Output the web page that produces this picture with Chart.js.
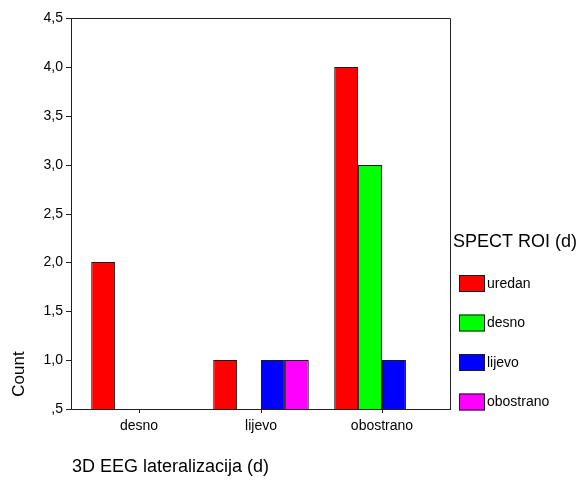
<!DOCTYPE html>
<html><head><meta charset="utf-8">
<script src="https://cdn.jsdelivr.net/npm/chart.js@4/dist/chart.umd.min.js"></script>
<style>html,body{margin:0;padding:0;background:#fff}#wrap{width:585px;height:481px;position:relative}</style>
</head><body><div id="wrap"><canvas id="c" width="585" height="481"></canvas></div>
<script>
// ---- data ----
const categories = ['desno', 'lijevo', 'obostrano'];
const seriesNames = ['uredan', 'desno', 'lijevo', 'obostrano'];
const uredan    = [2, 1, 4];
const desno     = [null, null, 3];
const lijevo    = [null, 1, 1];
const obostrano = [null, 1, null];
const yTickValues = [0.5, 1.0, 1.5, 2.0, 2.5, 3.0, 3.5, 4.0, 4.5];
const yTickLabels = [',5', '1,0', '1,5', '2,0', '2,5', '3,0', '3,5', '4,0', '4,5'];
const xTitle = '3D EEG lateralizacija (d)';
const yTitle = 'Count';
const legendTitle = 'SPECT ROI (d)';
// ---- styles ----
const seriesColors = ['#ff0000', '#00ff00', '#0000ff', '#ff00ff'];
const FONT = "'Liberation Sans', Arial, sans-serif";
const INK = '#222222';
const EDGE = '#1a1a1a';

const seriesValues = [uredan, desno, lijevo, obostrano];
const toPoints = arr => arr.map((v, i) => (v === null ? null : {x: i, y: v})).filter(p => p);

const datasets = seriesNames.map((name, k) => ({
  label: name,
  data: toPoints(seriesValues[k]),
  backgroundColor: seriesColors[k],
  borderColor: EDGE,
  borderWidth: 1,
  borderSkipped: 'bottom',
  categoryPercentage: 0.79,
  barPercentage: 1.0
}));

const decorPlugin = {
  id: 'decor',
  afterDraw(chart) {
    const ctx = chart.ctx;
    const a = chart.chartArea;
    ctx.save();
    // frame
    ctx.strokeStyle = INK;
    ctx.lineWidth = 1;
    ctx.beginPath();
    ctx.moveTo(a.left, a.top + 0.5);
    ctx.lineTo(a.right + 0.5, a.top + 0.5);
    ctx.lineTo(a.right + 0.5, a.bottom);
    ctx.stroke();
    // y title
    ctx.fillStyle = '#000';
    ctx.font = '17px ' + FONT;
    ctx.textAlign = 'center';
    ctx.textBaseline = 'middle';
    ctx.save();
    ctx.translate(19, 374);
    ctx.rotate(-Math.PI / 2);
    ctx.fillText(yTitle, 0, 0);
    ctx.restore();
    // x title
    ctx.font = '18px ' + FONT;
    ctx.textAlign = 'left';
    ctx.fillText(xTitle, a.left + 1, 467);
    // legend
    ctx.fillText(legendTitle, 453, 242);
    ctx.font = '14px ' + FONT;
    chart.data.datasets.forEach((ds, i) => {
      const top = 275 + i * 39.5;
      ctx.fillStyle = ds.backgroundColor;
      ctx.fillRect(459, top, 26, 17);
      ctx.strokeStyle = EDGE;
      ctx.strokeRect(459.5, top + 0.5, 25, 16);
      ctx.fillStyle = '#000';
      ctx.textBaseline = 'middle';
      ctx.fillText(ds.label, 487, top + 9);
    });
    ctx.restore();
  }
};

new Chart(document.getElementById('c'), {
  type: 'bar',
  data: { datasets },
  options: {
    responsive: false,
    devicePixelRatio: 1,
    animation: false,
    layout: { padding: { top: 18, right: 135, left: 0, bottom: 0 } },
    plugins: { legend: { display: false }, tooltip: { enabled: false } },
    scales: {
      x: {
        type: 'linear',
        offset: false,
        alignToPixels: true,
        min: -0.5597,
        max: 2.5597,
        grid: { offset: false, drawOnChartArea: false, drawTicks: true, tickLength: 4, color: INK },
        border: { display: true, color: INK, width: 1 },
        afterBuildTicks: s => { s.ticks = categories.map((c, i) => ({ value: i })); },
        ticks: {
          autoSkip: false, maxRotation: 0, padding: 5, color: '#000',
          font: { family: FONT, size: 14 },
          callback: v => categories[v]
        },
        afterFit: s => { s.height = 72; }
      },
      y: {
        min: 0.5,
        max: 4.5,
        alignToPixels: true,
        grid: { drawOnChartArea: false, drawTicks: true, tickLength: 5, color: INK },
        border: { display: true, color: INK, width: 1 },
        afterBuildTicks: s => { s.ticks = yTickValues.map(v => ({ value: v })); },
        ticks: {
          padding: 3, color: '#000',
          font: { family: FONT, size: 14 },
          callback: v => yTickLabels[yTickValues.indexOf(v)]
        },
        afterFit: s => { s.width = 71; }
      }
    }
  },
  plugins: [decorPlugin]
});
</script>
</body></html>
